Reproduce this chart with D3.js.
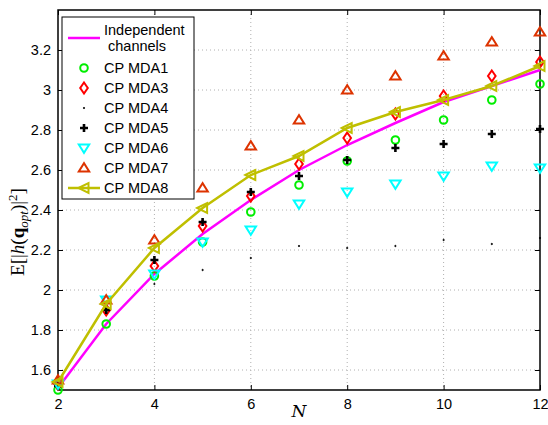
<!DOCTYPE html>
<html>
<head>
<meta charset="utf-8">
<script src="https://cdn.jsdelivr.net/npm/d3@7"></script>
<style>
  body { margin: 0; background: #fff; }
  svg text { font-family: "Liberation Sans", Arial, sans-serif; }
</style>
</head>
<body>
<div id="chart"></div>
<script>
// values
var Nvals = [2, 3, 4, 5, 6, 7, 8, 9, 10, 11, 12];
var indep = [1.51, 1.83, 2.08, 2.28, 2.45, 2.60, 2.725, 2.835, 2.94, 3.02, 3.10];
var mda1 = [1.50, 1.83, 2.07, 2.24, 2.39, 2.525, 2.645, 2.75, 2.85, 2.95, 3.03];
var mda3 = [1.53, 1.90, 2.12, 2.32, 2.47, 2.63, 2.76, 2.88, 2.97, 3.07, 3.14];
var mda4 = [1.52, 1.89, 2.03, 2.10, 2.16, 2.22, 2.21, 2.22, 2.25, 2.23, 2.26];
var mda5 = [1.52, 1.90, 2.15, 2.34, 2.49, 2.57, 2.65, 2.71, 2.73, 2.78, 2.805];
var mda6 = [1.53, 1.95, 2.08, 2.24, 2.30, 2.43, 2.49, 2.53, 2.57, 2.62, 2.61];
var mda7 = [1.55, 1.95, 2.25, 2.51, 2.72, 2.85, 3.00, 3.07, 3.17, 3.24, 3.29];
var mda8 = [1.54, 1.93, 2.21, 2.41, 2.575, 2.67, 2.81, 2.89, 2.95, 3.02, 3.12];
var xTicks = [2, 4, 6, 8, 10, 12];
var yTicks = [1.6, 1.8, 2, 2.2, 2.4, 2.6, 2.8, 3, 3.2];

var width = 548, height = 425;
var mLeft = 58, mRight = 540, mTop = 10, mBottom = 390;

var svg = d3.select("#chart").append("svg")
    .attr("width", width)
    .attr("height", height);

var x = d3.scaleLinear().domain([2, 12]).range([mLeft, mRight]);
var y = d3.scaleLinear().domain([1.5, 3.4]).range([mBottom, mTop]);

// grid
svg.append("g").selectAll("line").data(xTicks.slice(1, -1)).enter().append("line")
    .attr("x1", d => x(d)).attr("x2", d => x(d))
    .attr("y1", mTop).attr("y2", mBottom)
    .attr("stroke", "#b0b0b0").attr("stroke-dasharray", "1,3");
svg.append("g").selectAll("line").data(yTicks).enter().append("line")
    .attr("x1", mLeft).attr("x2", mRight)
    .attr("y1", d => y(d)).attr("y2", d => y(d))
    .attr("stroke", "#b0b0b0").attr("stroke-dasharray", "1,3");

// axes, ticks inward
var fmt = d => String(+d.toFixed(1));
var ax = svg.append("g").attr("transform", "translate(0," + mBottom + ")")
    .call(d3.axisBottom(x).tickValues(xTicks).tickSize(-5).tickPadding(9).tickFormat(fmt));
var axT = svg.append("g").attr("transform", "translate(0," + mTop + ")")
    .call(d3.axisTop(x).tickValues(xTicks).tickSize(-5).tickFormat(""));
var ay = svg.append("g").attr("transform", "translate(" + mLeft + ",0)")
    .call(d3.axisLeft(y).tickValues(yTicks).tickSize(-5).tickPadding(7).tickFormat(fmt));
var ayR = svg.append("g").attr("transform", "translate(" + mRight + ",0)")
    .call(d3.axisRight(y).tickValues(yTicks).tickSize(-5).tickFormat(""));
[ax, axT, ay, ayR].forEach(function(g) {
    g.select(".domain").remove();
    g.selectAll("line").attr("stroke", "#000");
    g.selectAll("text").attr("font-size", 14.5).attr("fill", "#000")
        .style("font-family", "Liberation Sans, Arial, sans-serif");
});
svg.append("rect").attr("x", mLeft).attr("y", mTop)
    .attr("width", mRight - mLeft).attr("height", mBottom - mTop)
    .attr("fill", "none").attr("stroke", "#000").attr("stroke-width", 1.5);

// labels
svg.append("text").attr("x", x(7)).attr("y", 417)
    .attr("text-anchor", "middle").attr("font-size", 17)
    .style("font-family", "DejaVu Serif, serif").style("font-style", "italic").text("N");

var yl = svg.append("text").attr("transform", "translate(24,232) rotate(-90)")
    .attr("text-anchor", "middle").attr("font-size", 19)
    .style("font-family", "Liberation Serif, serif");
yl.append("tspan").text("E[|");
yl.append("tspan").style("font-style", "italic").text("h");
yl.append("tspan").text("(");
yl.append("tspan").style("font-weight", "bold").text("q");
yl.append("tspan").attr("font-size", 13).attr("dy", 4).style("font-style", "italic").text("opt");
yl.append("tspan").attr("dy", -4).text(")|");
yl.append("tspan").attr("font-size", 13).attr("dy", -7).text("2");
yl.append("tspan").attr("dy", 7).text("]");

// markers
var sym = {
    circle: function(g) { g.append("circle").attr("r", 3.8); },
    diamond: function(g) { g.append("path").attr("d", "M0,-5.5L3.8,0L0,5.5L-3.8,0Z"); },
    dot: function(g) { g.append("circle").attr("r", 0.7).attr("fill", "#000").attr("stroke-width", 0.8); },
    plus: function(g) { g.append("path").attr("d", "M-4,0H4M0,-4V4").attr("stroke-width", 2.6); },
    tridown: function(g) { g.append("path").attr("d", "M-5.2,-3.5L5.2,-3.5L0,4.8Z"); },
    triup: function(g) { g.append("path").attr("d", "M-5.2,3.5L5.2,3.5L0,-4.8Z"); },
    trileft: function(g) { g.append("path").attr("d", "M-5.5,0L4.5,-5L4.5,5Z"); }
};

var series = [
    {name: "CP MDA1", vals: mda1, color: "#00ee00", mark: "circle"},
    {name: "CP MDA3", vals: mda3, color: "#ff0000", mark: "diamond"},
    {name: "CP MDA4", vals: mda4, color: "#000000", mark: "dot"},
    {name: "CP MDA5", vals: mda5, color: "#000000", mark: "plus"},
    {name: "CP MDA6", vals: mda6, color: "#00ffff", mark: "tridown"},
    {name: "CP MDA7", vals: mda7, color: "#dd3300", mark: "triup"},
    {name: "CP MDA8", vals: mda8, color: "#bfbf00", mark: "trileft", line: true}
];

var line = d3.line().x((d, i) => x(Nvals[i])).y(d => y(d));

function drawMark(g, s) {
    g.attr("fill", "none").attr("stroke", s.color).attr("stroke-width", 2);
    sym[s.mark](g);
}

svg.append("path").datum(indep).attr("d", line)
    .attr("fill", "none").attr("stroke", "#ff00ff").attr("stroke-width", 2.5);

series.forEach(function(s) {
    if (s.line) {
        svg.append("path").datum(s.vals).attr("d", line)
            .attr("fill", "none").attr("stroke", s.color).attr("stroke-width", 2.5);
    }
    s.vals.forEach(function(v, i) {
        var g = svg.append("g").attr("transform", "translate(" + x(Nvals[i]) + "," + y(v) + ")");
        drawMark(g, s);
    });
});

// legend
var lg = svg.append("g");
lg.append("rect").attr("x", 62).attr("y", 17).attr("width", 132).attr("height", 182)
    .attr("fill", "#fff").attr("stroke", "#000").attr("stroke-width", 1);
lg.append("line").attr("x1", 68).attr("x2", 100).attr("y1", 38).attr("y2", 38)
    .attr("stroke", "#ff00ff").attr("stroke-width", 2.5);
lg.append("text").attr("x", 104).attr("y", 35).attr("font-size", 14.5).text("Independent");
lg.append("text").attr("x", 108).attr("y", 51).attr("font-size", 14.5).text("channels");
series.forEach(function(s, i) {
    var yy = 68 + i * 20;
    if (s.line) {
        lg.append("line").attr("x1", 68).attr("x2", 100).attr("y1", yy).attr("y2", yy)
            .attr("stroke", s.color).attr("stroke-width", 2.5);
    }
    drawMark(lg.append("g").attr("transform", "translate(84," + yy + ")"), s);
    lg.append("text").attr("x", 104).attr("y", yy + 5).attr("font-size", 14.5).text(s.name);
});
</script>
</body>
</html>
